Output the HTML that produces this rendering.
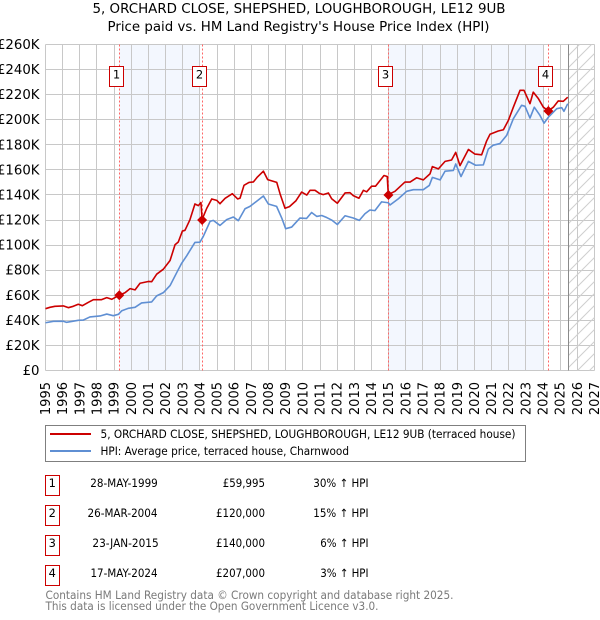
<!DOCTYPE html>
<html lang="en">
<head>
<meta charset="utf-8">
<title>5, Orchard Close, Shepshed price chart</title>
<style>
html,body{margin:0;padding:0;background:#fff;width:600px;height:620px;overflow:hidden}
svg{display:block}
text{font-family:"DejaVu Sans","Liberation Sans",sans-serif;fill:#000}
</style>
</head>
<body>
<svg id="chart" xmlns="http://www.w3.org/2000/svg" width="600" height="620" viewBox="0 0 600 620">
  <defs>
    <pattern id="hatch" patternUnits="userSpaceOnUse" width="12" height="12">
      <path d="M-3 3L3 -3M0 12L12 0M9 15L15 9" stroke="#cfcfcf" stroke-width="1" fill="none"/>
    </pattern>
  </defs>
  <rect x="0" y="0" width="600" height="620" fill="#fff"/>
  <text x="92.5" y="13" font-size="13" textLength="413" lengthAdjust="spacingAndGlyphs">5, ORCHARD CLOSE, SHEPSHED, LOUGHBOROUGH, LE12 9UB</text>
  <text x="107.5" y="31" font-size="13" textLength="382" lengthAdjust="spacingAndGlyphs">Price paid vs. HM Land Registry's House Price Index (HPI)</text>
  <g id="shades"></g>
  <g id="grid"></g>
  <g id="future"></g>
  <g id="ticks"></g>
  <g id="events"></g>
  <g id="series"></g>
  <g id="markers"></g>

  <g>
    <rect x="45.5" y="425.5" width="480" height="36" fill="#fff" stroke="#7f7f7f" stroke-width="1"/>
    <line x1="50" x2="91" y1="434" y2="434" stroke="#cc0000" stroke-width="2"/>
    <text x="100.5" y="438" font-size="11.4" textLength="415" lengthAdjust="spacingAndGlyphs">5, ORCHARD CLOSE, SHEPSHED, LOUGHBOROUGH, LE12 9UB (terraced house)</text>
    <line x1="50" x2="91" y1="451" y2="451" stroke="#5f8fd3" stroke-width="2"/>
    <text x="100.5" y="455" font-size="11.4" textLength="248.5" lengthAdjust="spacingAndGlyphs">HPI: Average price, terraced house, Charnwood</text>
  </g>

  <g font-size="11.4">
    <g>
      <rect x="45.5" y="475.5" width="14" height="20" fill="#fff" stroke="#cc0000"/>
      <text x="52.3" y="487" text-anchor="middle">1</text>
      <text x="90.3" y="487" textLength="67.5" lengthAdjust="spacingAndGlyphs">28-MAY-1999</text>
      <text x="222.8" y="487" textLength="42.2" lengthAdjust="spacingAndGlyphs">£59,995</text>
      <text x="313.3" y="487" textLength="55.2" lengthAdjust="spacingAndGlyphs">30% ↑ HPI</text>
    </g>
    <g>
      <rect x="45.5" y="505.5" width="14" height="20" fill="#fff" stroke="#cc0000"/>
      <text x="52.3" y="517" text-anchor="middle">2</text>
      <text x="87.5" y="517" textLength="70" lengthAdjust="spacingAndGlyphs">26-MAR-2004</text>
      <text x="216" y="517" textLength="49" lengthAdjust="spacingAndGlyphs">£120,000</text>
      <text x="313.3" y="517" textLength="55.2" lengthAdjust="spacingAndGlyphs">15% ↑ HPI</text>
    </g>
    <g>
      <rect x="45.5" y="535.5" width="14" height="20" fill="#fff" stroke="#cc0000"/>
      <text x="52.3" y="547" text-anchor="middle">3</text>
      <text x="92.4" y="547" textLength="66.3" lengthAdjust="spacingAndGlyphs">23-JAN-2015</text>
      <text x="216" y="547" textLength="49" lengthAdjust="spacingAndGlyphs">£140,000</text>
      <text x="320.2" y="547" textLength="48.3" lengthAdjust="spacingAndGlyphs">6% ↑ HPI</text>
    </g>
    <g>
      <rect x="45.5" y="565.5" width="14" height="20" fill="#fff" stroke="#cc0000"/>
      <text x="52.3" y="577" text-anchor="middle">4</text>
      <text x="90.5" y="577" textLength="67" lengthAdjust="spacingAndGlyphs">17-MAY-2024</text>
      <text x="216" y="577" textLength="49" lengthAdjust="spacingAndGlyphs">£207,000</text>
      <text x="320.2" y="577" textLength="48.3" lengthAdjust="spacingAndGlyphs">3% ↑ HPI</text>
    </g>
  </g>

  <text x="45.5" y="599" font-size="11.4" style="fill:#7a7a7a" textLength="408" lengthAdjust="spacingAndGlyphs">Contains HM Land Registry data © Crown copyright and database right 2025.</text>
  <text x="45.5" y="610" font-size="11.4" style="fill:#7a7a7a" textLength="333" lengthAdjust="spacingAndGlyphs">This data is licensed under the Open Government Licence v3.0.</text>
</svg>

<script>
const xTickYears = [1995,1996,1997,1998,1999,2000,2001,2002,2003,2004,2005,2006,2007,2008,2009,2010,2011,2012,2013,2014,2015,2016,2017,2018,2019,2020,2021,2022,2023,2024,2025,2026,2027];
const yTickValues = [0,20,40,60,80,100,120,140,160,180,200,220,240,260];
const yTickLabels = ['£0','£20K','£40K','£60K','£80K','£100K','£120K','£140K','£160K','£180K','£200K','£220K','£240K','£260K'];

const saleYears = [1999.30,2004.13,2014.99,2024.31];
const saleValues = [60,120,140,207];
const saleLabels = ['1','2','3','4'];
const lastDataYear = 2025.4;

const propertyYears = [1995,1995.26,1995.55,1996.04,1996.33,1996.62,1996.91,1997.15,1997.5,1997.79,1998.27,1998.57,1998.86,1999.3,1999.63,1999.93,2000.22,2000.51,2000.99,2001.19,2001.48,2001.87,2002.26,2002.55,2002.74,2002.98,2003.13,2003.42,2003.71,2003.91,2004.06,2004.13,
  2004.2,2004.4,2004.69,2004.98,2005.17,2005.47,2005.89,2006.2,2006.34,2006.57,2006.86,2007.12,2007.35,2007.7,2007.95,2008.48,2008.67,2008.96,2009.22,2009.6,2009.93,2010.23,
  2010.42,2010.71,2010.96,2011.19,2011.49,2011.68,2012.01,2012.46,2012.75,2012.94,2013.27,2013.53,2013.72,2014.01,2014.24,2014.73,2014.92,2014.98,2015.37,2015.95,2016.25,2016.63,2017.02,2017.41,2017.55,2017.9,2018.29,2018.67,2018.91,2019.16,2019.65,2020.03,2020.42,2020.71,2020.91,2021.39,
  2021.69,2021.98,2022.27,2022.66,2022.89,2023.24,2023.43,2023.73,2024.02,2024.31,2024.6,2024.89,2025.18,2025.44];
const propertyValues = [49.3,50.4,51.2,51.5,50.1,51.2,52.8,51.7,54.4,56.5,56.5,58.1,56.8,60,62,65.3,64.3,69.6,71,70.8,76.8,80.8,87.7,100.3,102.5,111.2,111.8,120.3,132.8,131.5,134,120,
  122.9,129.4,136.8,135.7,133,137.3,141,136.8,137.5,147.7,150,150.4,154.3,159,152.2,150,141,129.4,130.7,135.4,142.3,139.9,
  143.7,143.7,141.3,140.3,141.6,137,133.4,141.6,141.8,139.5,137.4,143.7,142.5,147,147,155.5,154.7,140.3,142.9,150.3,150.3,153.7,152,156.8,162.6,160.8,166.8,167.9,174,163.4,176.3,172.6,172,183,188.4,191,
  192,199.5,210,223.5,223.5,212.8,222,216.8,210,207,210,215,214.7,218];

const hpiYears = [1995,1995.46,1996.04,1996.23,1996.91,1997.2,1997.59,1998.18,1998.57,1998.95,1999.25,1999.45,1999.83,2000.22,2000.6,2001.19,2001.48,2001.87,2002.26,2002.65,2002.94,2003.23,2003.71,2004.0,2004.2,2004.59,2004.78,2005.17,2005.56,2005.95,2006.24,2006.63,2006.92,2007.31,2007.7,2007.99,2008.47,2008.77,2009.0,2009.35,2009.83,
  2010.22,2010.51,2010.81,2011.1,2011.39,2011.68,2012.01,2012.46,2012.94,2013.29,2013.62,2013.91,2014.2,2014.59,2014.98,2015.08,2015.57,2016.05,2016.44,
  2017.02,2017.37,2017.55,2018.0,2018.29,2018.77,2018.91,2019.22,2019.65,2020.07,2020.52,2020.81,2021.1,2021.49,
  2021.88,2022.27,2022.75,2022.95,2023.24,2023.49,2023.82,2024.06,2024.31,2024.8,2025.09,2025.22,2025.44];
const hpiValues = [38.1,39.2,39.3,38.4,40,40.2,42.7,43.5,45,43.7,44.8,47.7,49.6,50.4,53.9,54.7,59.5,62.1,67.7,78.1,85.6,91.5,102.1,102.3,107,118.9,119.7,115.7,120.3,122.4,119.5,129,130.9,135,139.2,132.8,130.9,121.6,113.1,114.4,121.6,
  121.3,126,122.9,123.6,122,120,116.4,123.4,121.6,119.7,125,128,127.5,134.5,133.8,132,137,142.9,144.2,
  144.2,147.6,154,152,159,159.5,164.7,154.7,166.8,163.7,164,176.6,179.7,181,
  187.5,200.8,211.5,210.7,201.3,210,203.5,197.3,202,208.8,209.6,206.7,212.8];

/* ---- axes ---- */
const plotLeft = 45.5, plotRight = 594.5, plotTop = 44.5, plotBottom = 370.5;
function xScale(year){ return plotLeft + (year - 1995) * (plotRight - plotLeft) / 32; }
function yScale(valueK){ return plotBottom - valueK * (plotBottom - plotTop) / 260; }
const NS = 'http://www.w3.org/2000/svg';
function make(parentId, tag, attrs, textValue){
  const el = document.createElementNS(NS, tag);
  for (const k in attrs) el.setAttribute(k, attrs[k]);
  if (textValue !== undefined) el.textContent = textValue;
  document.getElementById(parentId).appendChild(el);
  return el;
}

/* shaded holding periods: from one sale to the year tick of the next */
[[0,1],[2,3]].forEach(function(pair){
  const x0 = xScale(saleYears[pair[0]]), x1 = xScale(Math.floor(saleYears[pair[1]]));
  const el = make('shades', 'rect', {x:x0, y:plotTop, width:x1-x0, height:plotBottom-plotTop, fill:'#f3f7fe'});
  
  
});

/* grid */
xTickYears.forEach(function(yr){
  const x = Math.round(xScale(yr) - 0.5) + 0.5;
  const el = make('grid', 'line', {x1:x, x2:x, y1:plotTop, y2:plotBottom, stroke:'#c8c8c8', 'stroke-width':1});
  
  
});
yTickValues.forEach(function(v){
  const y = Math.round(yScale(v) - 0.5) + 0.5;
  const el = make('grid', 'line', {x1:plotLeft, x2:plotRight, y1:y, y2:y, stroke:'#c8c8c8', 'stroke-width':1});
  
  
});

/* future hatch */
const futureX = Math.round(xScale(lastDataYear + 0.03)) + 0.5;
const hatchEl = make('future', 'rect', {x:futureX, y:plotTop, width:plotRight-futureX, height:plotBottom-plotTop, fill:'url(#hatch)'});


const edgeEl = make('future', 'line', {x1:futureX, x2:futureX, y1:plotTop, y2:plotBottom, stroke:'#8a8a8a', 'stroke-width':1});



/* tick labels */
yTickValues.forEach(function(v, i){
  const el = make('ticks', 'text', {x:39.5, y:yScale(v)+4.5, 'font-size':13.3, 'text-anchor':'end'}, yTickLabels[i]);
  
  
});
xTickYears.forEach(function(yr){
  const x = xScale(yr) + 4.5;
  const el = make('ticks', 'text', {x:x, y:382, 'font-size':13, 'text-anchor':'end', transform:'rotate(-90 ' + x + ' 382)'}, String(yr));
  
  
});

/* sale event lines + numbered flags */
saleYears.forEach(function(yr, i){
  const x = Math.round(xScale(yr) - 0.5) + 0.5;
  const ln = make('events', 'line', {x1:x, x2:x, y1:plotTop, y2:plotBottom, stroke:'#ff6666', 'stroke-width':1, 'stroke-dasharray':'2 2'});
  
  
  const box = make('events', 'rect', {x:x-10, y:66.5, width:14, height:20, fill:'#fff', stroke:'#cc0000', 'stroke-width':1});
  
  
  const label = make('events', 'text', {x:x-3, y:78.5, 'font-size':11.5, 'text-anchor':'middle'}, saleLabels[i]);
  
  
});

/* series */
function linePath(years, values){
  const n = Math.min(years.length, values.length);
  let d = '';
  for (let i = 0; i < n; i++) {
    d += (i ? 'L' : 'M') + xScale(years[i]).toFixed(2) + ' ' + yScale(values[i]).toFixed(2);
  }
  return d;
}
const hpiLine = make('series', 'path', {d:linePath(hpiYears, hpiValues), fill:'none', stroke:'#5f8fd3', 'stroke-width':1.6, 'stroke-linejoin':'round'});


const propertyLine = make('series', 'path', {d:linePath(propertyYears, propertyValues), fill:'none', stroke:'#cc0000', 'stroke-width':1.6, 'stroke-linejoin':'round'});



/* sale markers */
saleYears.forEach(function(yr, i){
  const x = xScale(yr), y = yScale(saleValues[i]), r = 5;
  const m = make('markers', 'path', {d:'M'+(x-r)+' '+y+'L'+x+' '+(y-r)+'L'+(x+r)+' '+y+'L'+x+' '+(y+r)+'Z', fill:'#cc0000'});
  
  
});
</script>
</body>
</html>
